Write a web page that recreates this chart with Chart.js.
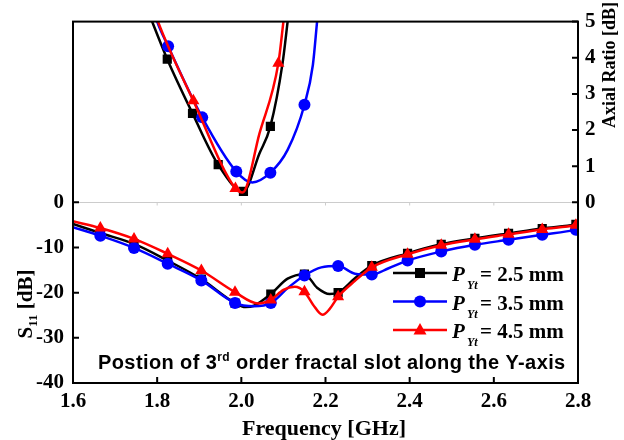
<!DOCTYPE html>
<html>
<head>
<meta charset="utf-8">
<script src="https://cdn.jsdelivr.net/npm/chart.js@4.4.1/dist/chart.umd.min.js"></script>
<style>
  html, body { margin: 0; padding: 0; background: #fff; }
  #wrap { width: 624px; height: 440px; }
</style>
</head>
<body>
<div id="wrap"><canvas id="chart" width="624" height="440"></canvas></div>
<script>
// S11 [dB] vs frequency [GHz], one pair of arrays per slot position
const s11Freq25 = [1.6, 1.665, 1.745, 1.825, 1.905, 1.985, 2.01, 2.03, 2.07, 2.11, 2.15, 2.18, 2.21, 2.23, 2.27, 2.31, 2.395, 2.475, 2.555, 2.635, 2.715, 2.795, 2.8];
const s11Val25  = [-4.8, -6.8, -9.2, -12.9, -17.0, -22.3, -23.2, -22.9, -20.3, -16.9, -15.9, -18.9, -20.3, -20.0, -16.8, -14.0, -11.3, -9.3, -8.0, -6.9, -5.8, -4.9, -4.8];

const s11Freq35 = [1.6, 1.665, 1.745, 1.825, 1.905, 1.985, 2.03, 2.07, 2.11, 2.15, 2.19, 2.23, 2.27, 2.31, 2.35, 2.395, 2.475, 2.555, 2.635, 2.715, 2.795, 2.8];
const s11Val35  = [-5.5, -7.4, -10.1, -13.6, -17.3, -22.3, -23.0, -22.3, -19.0, -16.2, -14.4, -14.1, -15.8, -16.0, -14.6, -12.9, -10.9, -9.4, -8.3, -7.2, -6.1, -6.0];

const s11Freq45 = [1.6, 1.665, 1.745, 1.825, 1.905, 1.985, 2.04, 2.07, 2.1, 2.127, 2.15, 2.17, 2.193, 2.21, 2.23, 2.27, 2.31, 2.395, 2.475, 2.555, 2.635, 2.715, 2.795, 2.8];
const s11Val45  = [-4.2, -5.7, -8.1, -11.4, -15.1, -19.9, -22.4, -21.6, -19.4, -18.7, -19.8, -22.6, -24.9, -23.6, -20.9, -17.4, -14.4, -11.5, -9.5, -8.2, -7.1, -6.0, -5.1, -5.0];

// axial ratio [dB] vs frequency [GHz]
const arFreq25 = [1.77, 1.788, 1.824, 1.884, 1.945, 2.005, 2.043, 2.069, 2.098, 2.11, 2.12];
const arVal25  = [5.55, 5.0, 3.96, 2.46, 1.04, 0.3, 1.35, 2.1, 3.85, 5.0, 6.0];

const arFreq35 = [1.785, 1.8, 1.826, 1.907, 1.988, 2.026, 2.069, 2.11, 2.15, 2.17, 2.18, 2.19];
const arVal35  = [5.6, 5.0, 4.32, 2.35, 0.85, 0.55, 0.82, 1.45, 2.7, 3.8, 5.0, 6.2];

const arFreq45 = [1.785, 1.802, 1.886, 1.986, 2.003, 2.043, 2.088, 2.1, 2.108];
const arVal45  = [5.6, 5.0, 2.81, 0.38, 0.27, 1.9, 3.85, 5.0, 5.8];

// frequencies carrying a marker
const s11Marks = [1.665, 1.745, 1.825, 1.905, 1.985, 2.07, 2.15, 2.23, 2.31, 2.395, 2.475, 2.555, 2.635, 2.715, 2.795];
const arMarks25 = [1.824, 1.884, 1.945, 2.005, 2.069];
const arMarks35 = [1.826, 1.907, 1.988, 2.069, 2.15];
const arMarks45 = [1.886, 1.986, 2.088];

const slotSizes = ['2.5', '3.5', '4.5'];
const xTicks = [1.6, 1.8, 2.0, 2.2, 2.4, 2.6, 2.8];
const s11Ticks = [-40, -30, -20, -10, 0];
const arTicks = [0, 1, 2, 3, 4, 5];

const colors = ['#000000', '#0000ff', '#ff0000'];
const shapes = ['rect', 'circle', 'triangle'];
const sizes = [6.5, 6, 7];

const SERIF = '"Liberation Serif", "Times New Roman", serif';
const SANS = '"Liberation Sans", Arial, sans-serif';

function pts(fs, vs) { return fs.map((f, i) => ({ x: f, y: vs[i] })); }

function trace(i, data, marks, axis) {
  return {
    data,
    yAxisID: axis,
    order: 2 - i,
    borderColor: colors[i],
    backgroundColor: colors[i],
    borderWidth: 2.5,
    cubicInterpolationMode: 'monotone',
    pointStyle: shapes[i],
    pointBorderWidth: 0,
    pointRadius: c => (c.raw && marks.some(m => Math.abs(m - c.raw.x) < 1e-6)) ? sizes[i] : 0,
    pointHoverRadius: 0
  };
}

const datasets = [
  trace(0, pts(s11Freq25, s11Val25), s11Marks, 'y'),
  trace(1, pts(s11Freq35, s11Val35), s11Marks, 'y'),
  trace(2, pts(s11Freq45, s11Val45), s11Marks, 'y'),
  trace(0, pts(arFreq25, arVal25), arMarks25, 'y1'),
  trace(1, pts(arFreq35, arVal35), arMarks35, 'y1'),
  trace(2, pts(arFreq45, arVal45), arMarks45, 'y1')
];

function marker(ctx, i, x, y) {
  ctx.fillStyle = colors[i];
  ctx.beginPath();
  if (i === 0) ctx.rect(x - 5, y - 5, 10, 10);
  else if (i === 1) ctx.arc(x, y, 6, 0, Math.PI * 2);
  else { ctx.moveTo(x, y - 7); ctx.lineTo(x + 6.5, y + 4.5); ctx.lineTo(x - 6.5, y + 4.5); ctx.closePath(); }
  ctx.fill();
}

// frame, inward ticks, the zero divider, titles, legend and note
const deco = {
  id: 'deco',
  beforeDatasetsDraw(chart) {
    const { ctx, chartArea: a, scales } = chart;
    const y0 = Math.round(scales.y.getPixelForValue(0)) + 0.5;
    ctx.save();
    ctx.strokeStyle = '#cccccc';
    ctx.lineWidth = 1;
    ctx.beginPath();
    ctx.moveTo(a.left, y0); ctx.lineTo(a.right, y0);
    xTicks.forEach(v => {
      const px = scales.x.getPixelForValue(v);
      ctx.moveTo(px, y0); ctx.lineTo(px, y0 + 3);
    });
    ctx.stroke();
    ctx.restore();
  },
  afterDraw(chart) {
    const { ctx, chartArea: a, scales } = chart;
    ctx.save();
    ctx.strokeStyle = '#000';
    ctx.lineWidth = 2;
    ctx.strokeRect(a.left, a.top, a.right - a.left, a.bottom - a.top);

    ctx.beginPath();
    xTicks.forEach(v => {
      const px = scales.x.getPixelForValue(v);
      ctx.moveTo(px, a.bottom); ctx.lineTo(px, a.bottom - 6);
    });
    s11Ticks.forEach(v => {
      const py = scales.y.getPixelForValue(v);
      ctx.moveTo(a.left, py); ctx.lineTo(a.left + 6, py);
    });
    arTicks.forEach(v => {
      const py = scales.y1.getPixelForValue(v);
      ctx.moveTo(a.right, py); ctx.lineTo(a.right - 6, py);
    });
    ctx.stroke();

    ctx.fillStyle = '#000';
    ctx.textBaseline = 'alphabetic';

    // x title
    ctx.font = 'bold 22px ' + SERIF;
    ctx.textAlign = 'center';
    ctx.fillText('Frequency [GHz]', 324, 435);

    // left title: S11 [dB]
    ctx.save();
    ctx.translate(32, 304);
    ctx.rotate(-Math.PI / 2);
    ctx.textAlign = 'left';
    const big = 'bold 21px ' + SERIF, small = 'bold 13px ' + SERIF;
    ctx.font = big; const wS = ctx.measureText('S').width, wR = ctx.measureText(' [dB]').width;
    ctx.font = small; const w11 = ctx.measureText('11').width;
    let cx = -(wS + w11 + wR) / 2;
    ctx.font = big; ctx.fillText('S', cx, 0); cx += wS;
    ctx.font = small; ctx.fillText('11', cx, 5); cx += w11;
    ctx.font = big; ctx.fillText(' [dB]', cx, 0);
    ctx.restore();

    // right title
    ctx.save();
    ctx.translate(615, 65);
    ctx.rotate(-Math.PI / 2);
    ctx.textAlign = 'center';
    ctx.font = 'bold 18px ' + SERIF;
    ctx.fillText('Axial Ratio [dB]', 0, 0);
    ctx.restore();

    // legend
    ctx.textAlign = 'left';
    slotSizes.forEach((s, i) => {
      const ly = 273 + i * 28.5;
      ctx.strokeStyle = colors[i];
      ctx.lineWidth = 2.5;
      ctx.beginPath(); ctx.moveTo(393, ly); ctx.lineTo(447, ly); ctx.stroke();
      marker(ctx, i, 420, ly);
      ctx.fillStyle = '#000';
      ctx.font = 'italic bold 21px ' + SERIF;
      ctx.fillText('P', 452, ly + 8);
      ctx.font = 'italic bold 12px ' + SERIF;
      ctx.fillText('Yt', 467, ly + 16);
      ctx.font = 'bold 21px ' + SERIF;
      ctx.fillText('= ' + s + ' mm', 480, ly + 8);
    });

    // note
    ctx.letterSpacing = '0.4px';
    ctx.font = 'bold 20px ' + SANS;
    let nx = 98;
    const p1 = 'Postion of 3', p2 = ' order fractal slot along the Y-axis';
    ctx.fillText(p1, nx, 369); nx += ctx.measureText(p1).width;
    ctx.font = 'bold 12px ' + SANS;
    ctx.fillText('rd', nx, 361); nx += ctx.measureText('rd').width;
    ctx.font = 'bold 20px ' + SANS;
    ctx.fillText(p2, nx, 369);
    ctx.restore();
  }
};

const tickFont = { family: SERIF, size: 21, weight: 'bold' };
const noGrid = { display: false, drawTicks: false };

new Chart(document.getElementById('chart'), {
  type: 'line',
  data: { datasets },
  plugins: [deco],
  options: {
    responsive: false,
    animation: false,
    events: [],
    layout: { autoPadding: false, padding: { top: 17, left: 0, right: 0, bottom: 0 } },
    plugins: { legend: { display: false }, tooltip: { enabled: false } },
    scales: {
      x: {
        type: 'linear', min: 1.6, max: 2.8,
        afterBuildTicks: s => { s.ticks = xTicks.map(v => ({ value: v })); },
        afterFit: s => { s.height = 57; },
        grid: noGrid,
        border: { display: false },
        ticks: { color: '#000', font: tickFont, padding: 6, maxRotation: 0, callback: v => v.toFixed(1) }
      },
      y: {
        position: 'left', min: -40, max: 40,
        afterBuildTicks: s => { s.ticks = s11Ticks.map(v => ({ value: v })); },
        afterFit: s => { s.width = 73; },
        grid: noGrid,
        border: { display: false },
        ticks: { color: '#000', font: tickFont, padding: 9 }
      },
      y1: {
        position: 'right', min: -5, max: 5,
        afterBuildTicks: s => { s.ticks = arTicks.map(v => ({ value: v })); },
        afterFit: s => { s.width = 46; },
        grid: noGrid,
        border: { display: false },
        ticks: { color: '#000', font: tickFont, padding: 7 }
      }
    }
  }
});
</script>
</body>
</html>
